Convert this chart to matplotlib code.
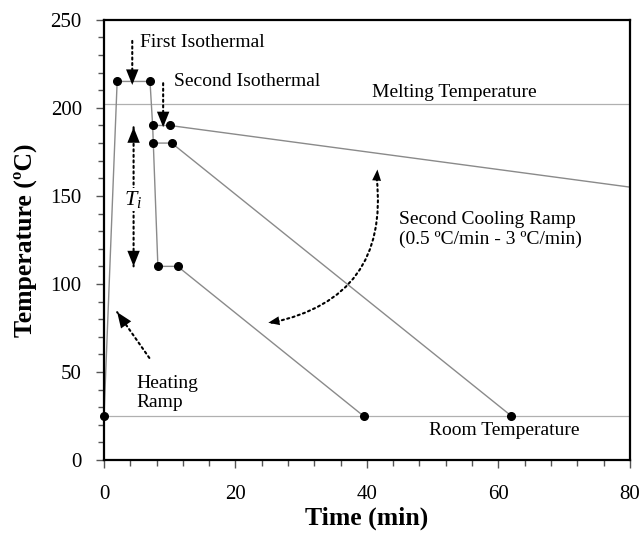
import matplotlib.pyplot as plt
from matplotlib.ticker import MultipleLocator

plt.rcParams['font.family'] = ['Liberation Serif', 'DejaVu Serif']
plt.rcParams['mathtext.fontset'] = 'custom'
plt.rcParams['mathtext.rm'] = 'Liberation Serif'
plt.rcParams['mathtext.it'] = 'Liberation Serif:italic'

# thermal history paths (time in min, temperature in C)
path1_t = [0, 2, 7, 7.4, 10, 80]
path1_T = [25, 215, 215, 190, 190, 155]
path2_t = [7.4, 7.5, 10.3, 62]
path2_T = [190, 180, 180, 25]
path3_t = [7.5, 8.2, 11.2, 39.5]
path3_T = [180, 110, 110, 25]

dots_t = [0, 2, 7, 7.4, 10, 7.5, 10.3, 8.2, 11.2, 39.5, 62]
dots_T = [25, 215, 215, 190, 190, 180, 180, 110, 110, 25, 25]

melt_T = 202
room_T = 25

fig = plt.figure(figsize=(6.42, 5.35), dpi=100)
ax = fig.add_axes([0.162, 0.140, 0.819, 0.823])

ax.axhline(melt_T, color='#b0b0b0', lw=0.9, zorder=1)
ax.axhline(room_T, color='#b0b0b0', lw=0.9, zorder=1)

for t, T in [(path1_t, path1_T), (path2_t, path2_T), (path3_t, path3_T)]:
    ax.plot(t, T, color='#8a8a8a', lw=1.0, zorder=2)
ax.plot(dots_t, dots_T, 'o', color='black', ms=5.5, zorder=3, clip_on=False)

ax.set_xlim(0, 80)
ax.set_ylim(0, 250)
ax.xaxis.set_major_locator(MultipleLocator(20))
ax.xaxis.set_minor_locator(MultipleLocator(4))
ax.yaxis.set_major_locator(MultipleLocator(50))
ax.yaxis.set_minor_locator(MultipleLocator(10))
ax.tick_params(which='both', direction='out', labelsize=15, width=1, color='#555555')
ax.tick_params(which='major', length=6)
ax.tick_params(which='minor', length=4)
ax.tick_params(axis='x', pad=12)
ax.tick_params(axis='y', pad=10)
for s in ax.spines.values():
    s.set_linewidth(1.6)

ax.set_xlabel('Time (min)', fontsize=18.5, fontweight='bold', labelpad=2)
ax.set_ylabel('Temperature (ºC)', fontsize=18.5, fontweight='bold')
ax.yaxis.set_label_coords(-0.128, 0.5)

fs = 14
dot = dict(arrowstyle='-', linestyle=':', lw=1.5, color='black', shrinkA=0, shrinkB=0)
head = dict(arrowstyle='-|>,head_length=0.8,head_width=0.32', lw=0, color='black',
            mutation_scale=14, shrinkA=0, shrinkB=0)
small_head = dict(head, mutation_scale=10)


def arrow(tip, tail, both=False):
    ax.annotate('', xy=tip, xytext=tail, arrowprops=dot)
    # short solid piece at the tip carries the arrow head
    tx = tip[0] + (tail[0] - tip[0]) * 0.05
    ty = tip[1] + (tail[1] - tip[1]) * 0.05
    ax.annotate('', xy=tip, xytext=(tx, ty), arrowprops=head)
    if both:
        hx = tail[0] + (tip[0] - tail[0]) * 0.05
        hy = tail[1] + (tip[1] - tail[1]) * 0.05
        ax.annotate('', xy=tail, xytext=(hx, hy), arrowprops=head)


ax.text(5.5, 237, 'First Isothermal', fontsize=fs, va='center')
arrow((4.3, 213), (4.3, 238))
ax.text(10.6, 215, 'Second Isothermal', fontsize=fs, va='center')
arrow((9.0, 189), (9.0, 214))

arrow((4.5, 110), (4.5, 189), both=True)
ax.text(4.5, 148, r'$T_i$', fontsize=fs + 2, ha='center', va='center',
        bbox=dict(facecolor='white', edgecolor='none', pad=1))

arrow((2.0, 84), (6.9, 58))
ax.text(4.9, 38, 'Heating\nRamp', fontsize=fs, va='center', linespacing=1.2)

# curved double arrow for the second cooling ramp
ax.annotate('', xy=(25.5, 78), xytext=(41.5, 160),
            arrowprops=dict(dot, connectionstyle='arc3,rad=-0.45'))
ax.annotate('', xy=(41.6, 165), xytext=(41.5, 160), arrowprops=small_head)
ax.annotate('', xy=(25.0, 78), xytext=(26.5, 79), arrowprops=small_head)
ax.text(44.9, 131, 'Second Cooling Ramp\n(0.5 ºC/min - 3 ºC/min)', fontsize=fs,
        va='center', linespacing=1.2)

ax.text(40.8, 209, 'Melting Temperature', fontsize=fs, va='center')
ax.text(49.5, 17, 'Room Temperature', fontsize=fs, va='center')

fig.savefig('out.png', dpi=100)
